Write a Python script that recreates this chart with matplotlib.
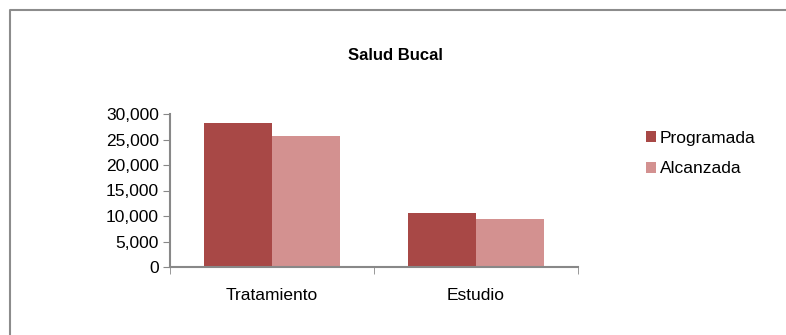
import matplotlib
matplotlib.use("Agg")
import matplotlib.pyplot as plt
from matplotlib.lines import Line2D
from matplotlib.ticker import FuncFormatter
import numpy as np

categories = ["Tratamiento", "Estudio"]
programada = [28300, 10600]
alcanzada = [25600, 9500]
series_names = ["Programada", "Alcanzada"]
title = "Salud Bucal"

plt.rcParams['font.family'] = ['Liberation Sans', 'DejaVu Sans']

W, H = 786, 335
fig = plt.figure(figsize=(W / 100, H / 100), dpi=100)

# outer chart frame (only left and top edges are visible in the crop)
frame = Line2D([9.5 / W, 9.5 / W, 1.0], [0.0, 1 - 10 / H, 1 - 10 / H], transform=fig.transFigure,
               color='#8c8c8c', linewidth=1.5)
fig.lines.append(frame)

ax = fig.add_axes([170 / W, (H - 267) / H, 408 / W, 153 / H])

x = np.arange(len(categories))
bw = 1 / 3
c_prog = '#a84846'
c_alc = '#d39190'
ax.bar(x - bw / 2, programada, bw, color=c_prog, label=series_names[0])
ax.bar(x + bw / 2, alcanzada, bw, color=c_alc, label=series_names[1])

ax.set_xlim(-0.5, len(categories) - 0.5)
ax.set_ylim(0, 30000)
ax.set_yticks(range(0, 30001, 5000))
ax.yaxis.set_major_formatter(FuncFormatter(lambda v, p: f"{int(v):,}"))
ax.set_xticks(x)
ax.set_xticklabels(categories)
ax.set_xticks([-0.5, 0.5, 1.5], minor=True)
ax.tick_params(axis='x', which='major', length=0, pad=15, labelsize=12.5)
ax.tick_params(axis='x', which='minor', length=5, color='#888888', direction='out')
ax.tick_params(axis='y', length=5, color='#888888', labelsize=12.5, pad=3)

for s in ['top', 'right']:
    ax.spines[s].set_visible(False)
for s in ['left', 'bottom']:
    ax.spines[s].set_color('#888888')
    ax.spines[s].set_linewidth(1.5)

fig.text(395 / W, 1 - 55 / H, title, ha='center', va='center', fontsize=12, fontweight='bold')

ax.legend(loc='upper left', bbox_to_anchor=(637 / W, 1 - 122 / H), bbox_transform=fig.transFigure,
          frameon=False, fontsize=12.5, handlelength=0.6, handleheight=0.6, handletextpad=0.2,
          labelspacing=0.9, borderpad=0)

fig.savefig("out.png", dpi=100)
